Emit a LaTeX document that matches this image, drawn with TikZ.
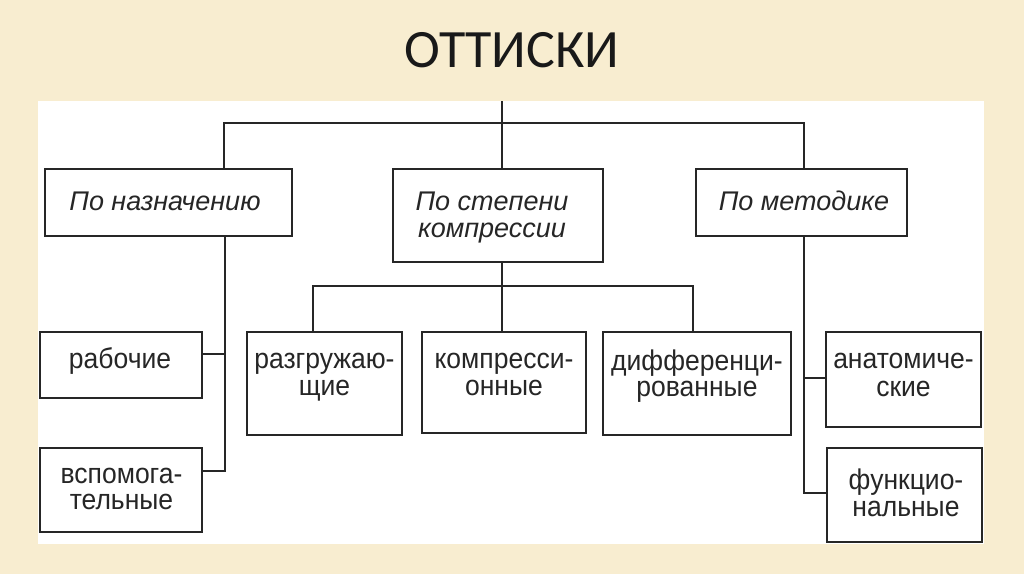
\documentclass[tikz,border=0pt]{standalone}
\usepackage{fontspec}
\setmainfont{Liberation Sans}
\newfontfamily\titlefont{Carlito}
\newfontfamily\lblfont[FakeStretch=0.93]{Liberation Sans}
\begin{document}
\begin{tikzpicture}[x=1pt,y=-1pt,
  box/.style={draw=black!85, line width=2.2pt, inner sep=0pt, fill=white},
  conn/.style={draw=black!85, line width=1.7pt},
  lbl/.style={inner sep=0pt, anchor=base, font=\lblfont\fontsize{28.5}{25}\selectfont, text=black!85},
  ilbl/.style={inner sep=0pt, anchor=base, font=\fontsize{27}{25}\selectfont\itshape, text=black!85}]
\fill[fill={rgb,255:red,248;green,237;blue,208}] (0,0) rectangle (1024,574);
\useasboundingbox (0,0) rectangle (1024,574);
\fill[white] (38,101) rectangle (984,544);
\node[inner sep=0pt, font=\titlefont\fontsize{54}{60}\selectfont, text=black!90] (title) at (512,50) {ОТТИСКИ};
% boxes
\node[box, minimum width=247pt, minimum height=67pt] (b1) at (168.5,202.5) {};
\node[box, minimum width=210pt, minimum height=93pt] (b2) at (498,215.5) {};
\node[box, minimum width=211pt, minimum height=67pt] (b3) at (801.5,202.5) {};
\node[box, minimum width=162pt, minimum height=66pt] (c1) at (121,365) {};
\node[box, minimum width=162pt, minimum height=84pt] (c2) at (121,490) {};
\node[box, minimum width=155pt, minimum height=103pt] (d1) at (324.5,383.5) {};
\node[box, minimum width=164pt, minimum height=101pt] (d2) at (504,382.5) {};
\node[box, minimum width=188pt, minimum height=103pt] (d3) at (697,383.5) {};
\node[box, minimum width=155pt, minimum height=95pt] (e1) at (903.5,379.5) {};
\node[box, minimum width=155pt, minimum height=94pt] (e2) at (904.5,495) {};
% coordinates
\coordinate (top) at (502,101);
\coordinate (busL) at (224,123);
\coordinate (busR) at (804,123);
\coordinate (trL) at (225,471);
\coordinate (trLa) at (225,354);
\coordinate (midL) at (313,286);
\coordinate (midM) at (502,286);
\coordinate (midR) at (693,286);
\coordinate (trR) at (804,493);
\coordinate (trRa) at (804,378);
% connectors
\draw[conn] (top) -- (top |- b2.north);
\draw[conn] (busL |- b1.north) -- (busL) -- (busR) -- (busR |- b3.north);
\draw[conn] (b1.south -| trL) -- (trL) -- (trL -| c2.east);
\draw[conn] (trLa) -- (trLa -| c1.east);
\draw[conn] (b2.south -| midM) -- (midM |- d2.north);
\draw[conn] (midL |- d1.north) -- (midL) -- (midR) -- (midR |- d3.north);
\draw[conn] (b3.south -| trR) -- (trR) -- (trR -| e2.west);
\draw[conn] (trRa) -- (trRa -| e1.west);
% labels
\node[ilbl] (t1) at (165,210) {По назначению};
\node[ilbl] (t2a) at (492,210) {По степени};
\node[ilbl] (t2b) at (492,237) {компрессии};
\node[ilbl] (t3) at (804,210) {По методике};
\node[lbl] (tc1) at (120,368) {рабочие};
\node[lbl] (tc2a) at (121.5,483) {вспомога-};
\node[lbl] (tc2b) at (121.5,509) {тельные};
\node[lbl] (td1a) at (324.5,368) {разгружаю-};
\node[lbl] (td1b) at (324.5,395) {щие};
\node[lbl] (td2a) at (504,368) {компресси-};
\node[lbl] (td2b) at (504,395) {онные};
\node[lbl] (td3a) at (697,370) {дифференци-};
\node[lbl] (td3b) at (697,396) {рованные};
\node[lbl] (te1a) at (903.5,368) {анатомиче-};
\node[lbl] (te1b) at (903.5,396) {ские};
\node[lbl] (te2a) at (906,489) {функцио-};
\node[lbl] (te2b) at (906,516) {нальные};
\end{tikzpicture}
\end{document}
